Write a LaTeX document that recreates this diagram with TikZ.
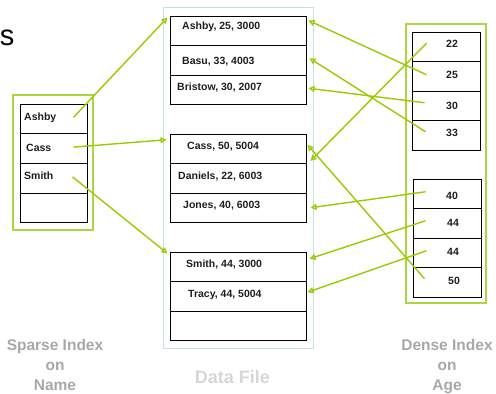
\documentclass[tikz,border=0pt]{standalone}
\usepackage{fontspec}
\setmainfont{Liberation Sans}
\usetikzlibrary{arrows.meta,calc}
\definecolor{arrowgreen}{RGB}{153,204,0}
\definecolor{boxgreen}{RGB}{172,214,64}
\definecolor{filecyan}{RGB}{192,228,230}
\definecolor{lblgray}{RGB}{168,168,168}
\definecolor{filegray}{RGB}{214,214,214}
\definecolor{txt}{RGB}{30,30,30}
\begin{document}
\begin{tikzpicture}[x=1pt,y=-1pt,
  cellbox/.style={draw=black, line width=1pt, inner sep=0pt, minimum height=29.5pt, minimum width=#1},
  celltext/.style={anchor=base west, inner sep=0pt, text=txt, font=\fontsize{10.5}{12}\selectfont\bfseries},
  numtext/.style={anchor=base, inner sep=0pt, text=txt, font=\fontsize{10.5}{12}\selectfont\bfseries},
  container/.style={draw=boxgreen, line width=1.5pt},
  arr/.style={draw=arrowgreen, line width=1.4pt, -{Triangle[open,length=6pt,width=6pt]}},
  caption/.style={align=center, inner sep=0pt, anchor=base, text=lblgray,
     font=\fontsize{15.5}{20}\selectfont\bfseries}
]
\useasboundingbox (0,0) rectangle (496,394);

% partial title glyph
\node[anchor=base east, inner sep=0pt, font=\fontsize{29}{30}\selectfont] (title) at (14.5,45) {s};

% containers
\draw[filecyan, line width=1pt] (163,7) rectangle (313,348);
\draw[container] (13,95) rectangle (93,230);
\draw[container] (406,24) rectangle (486,303);

% sparse index cells
\foreach \i in {1,...,4} {
  \node[cellbox=67pt] (sp\i) at (53.5,{104+29.75*(\i-0.5)}) {};
}
\node[celltext] (tA) at (24,120.7) {Ashby};
\node[celltext] (tC) at (26,151.7) {Cass};
\node[celltext] (tS) at (24,179.7) {Smith};

% data file cells
\foreach \i/\t in {1/16,2/134,3/252} {
  \foreach \j in {1,2,3} {
    \node[cellbox=136pt] (d\i\j) at (238,{\t+29.5*(\j-0.5)}) {};
  }
}
\node[celltext] at (182,29.7) {Ashby, 25, 3000};
\node[celltext] at (182,64.2) {Basu, 33, 4003};
\node[celltext] at (177,90.7) {Bristow, 30, 2007};
\node[celltext] at (187,149.7) {Cass, 50, 5004};
\node[celltext] at (178,179.7) {Daniels, 22, 6003};
\node[celltext] at (183,208.7) {Jones, 40, 6003};
\node[celltext] at (186,267.7) {Smith, 44, 3000};
\node[celltext] at (188,297.7) {Tracy, 44, 5004};

% dense index cells
\foreach \j in {1,...,4} {
  \node[cellbox=68pt] (da\j) at (446,{32+29.5*(\j-0.5)}) {};
  \node[cellbox=68pt] (db\j) at (447,{179+29.5*(\j-0.5)}) {};
}
\node[numtext] at (452,47.7) {22};
\node[numtext] at (452,78.7) {25};
\node[numtext] at (452,109.2) {30};
\node[numtext] at (452,136.7) {33};
\node[numtext] at (452,199.2) {40};
\node[numtext] at (453,226.2) {44};
\node[numtext] at (453,255.7) {44};
\node[numtext] at (454,284.7) {50};

% captions (base = last line baseline)
\node[caption] (capS) at (55,390) {Sparse Index\\on\\Name};
\node[caption] (capD) at (447,390) {Dense Index\\on\\Age};
\node[caption, text=filegray, font=\fontsize{18}{20}\selectfont\bfseries] (capF) at (232.5,383) {Data File};

% sparse index pointers
\draw[arr] ($(sp1.east)+(-14,-1.5)$) -- ($(d11.north west)+(-2,2)$);
\draw[arr] ($(sp2.east)+(-14,-1.5)$) -- ($(d21.west)+(-3,-9)$);
\draw[arr] ($(sp3.east)+(-15,-1.5)$) -- ($(d31.north west)+(-2,2)$);

% dense index pointers
\draw[arr] ($(da1.west)+(15,-3.5)$) -- ($(d22.north east)+(4,-2)$);
\draw[arr] ($(da2.west)+(15,-1.5)$) -- ($(d11.north east)+(2,5)$);
\draw[arr] ($(da3.west)+(13,-3)$) -- ($(d13.east)+(2,-1.5)$);
\draw[arr] ($(da4.west)+(14,-3.5)$) -- ($(d12.east)+(3,-2)$);
\draw[arr] ($(db1.west)+(13,-2)$) -- ($(d23.east)+(4,0)$);
\draw[arr] ($(db2.west)+(13,-2.5)$) -- ($(d31.east)+(3,-8)$);
\draw[arr] ($(db3.west)+(14,-2)$) -- ($(d32.east)+(1,-4)$);
\draw[arr] ($(db4.west)+(12,-3.5)$) -- ($(d21.east)+(1,-4)$);
\end{tikzpicture}
\end{document}
